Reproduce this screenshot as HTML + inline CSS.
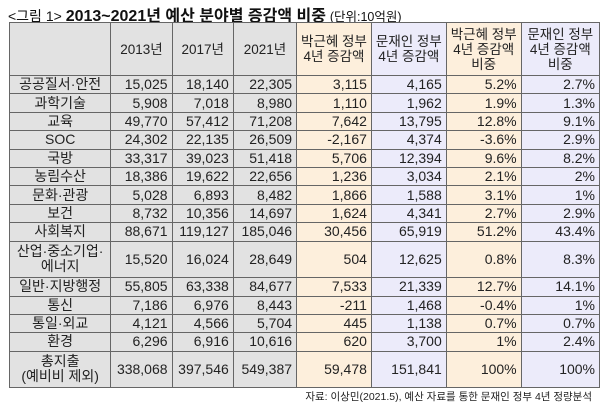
<!DOCTYPE html>
<html><head><meta charset="utf-8"><style>
body{margin:0;width:600px;height:407px;background:#fff;font-family:"Liberation Sans","Noto Sans CJK KR",sans-serif;position:relative;overflow:hidden}
.t{position:absolute;left:8px;top:2px;font-size:14px;color:#111;white-space:nowrap}
.t b{font-size:16px}
.t span{font-size:12.5px}
table{position:absolute;left:9px;top:22px;border-collapse:collapse;table-layout:fixed;font-size:14px;color:#222}
td{border:1px solid #666;padding:0 4px;height:17.4px;line-height:15px;text-align:right;white-space:nowrap;background:#e2e2e2}
td:first-child{text-align:center}
tr.h td{height:52px;text-align:center;line-height:15px;font-size:13.5px}
td.o{background:#fdefdc}
td.p{background:#ecebfa}
tr.d td{height:35.6px}
.s{position:absolute;right:8px;top:389px;font-size:10.5px;color:#222}
</style></head><body>
<div class="t">&lt;그림 1&gt; <b>2013~2021년 예산 분야별 증감액 비중</b> <span>(단위:10억원)</span></div>
<table>
<colgroup><col style="width:104px"><col style="width:62px"><col style="width:62px"><col style="width:65px"><col style="width:68px"><col style="width:74px"><col style="width:69px"><col style="width:80px"></colgroup>
<tr class="h"><td></td><td>2013년</td><td>2017년</td><td>2021년</td><td class="o">박근혜 정부<br>4년 증감액</td><td class="p">문재인 정부<br>4년 증감액</td><td class="o">박근혜 정부<br>4년 증감액<br>비중</td><td class="p">문재인 정부<br>4년 증감액<br>비중</td></tr>
<tr><td>공공질서·안전</td><td>15,025</td><td>18,140</td><td>22,305</td><td class="o">3,115</td><td class="p">4,165</td><td class="o">5.2%</td><td class="p">2.7%</td></tr>
<tr><td>과학기술</td><td>5,908</td><td>7,018</td><td>8,980</td><td class="o">1,110</td><td class="p">1,962</td><td class="o">1.9%</td><td class="p">1.3%</td></tr>
<tr><td>교육</td><td>49,770</td><td>57,412</td><td>71,208</td><td class="o">7,642</td><td class="p">13,795</td><td class="o">12.8%</td><td class="p">9.1%</td></tr>
<tr><td>SOC</td><td>24,302</td><td>22,135</td><td>26,509</td><td class="o">-2,167</td><td class="p">4,374</td><td class="o">-3.6%</td><td class="p">2.9%</td></tr>
<tr><td>국방</td><td>33,317</td><td>39,023</td><td>51,418</td><td class="o">5,706</td><td class="p">12,394</td><td class="o">9.6%</td><td class="p">8.2%</td></tr>
<tr><td>농림수산</td><td>18,386</td><td>19,622</td><td>22,656</td><td class="o">1,236</td><td class="p">3,034</td><td class="o">2.1%</td><td class="p">2%</td></tr>
<tr><td>문화·관광</td><td>5,028</td><td>6,893</td><td>8,482</td><td class="o">1,866</td><td class="p">1,588</td><td class="o">3.1%</td><td class="p">1%</td></tr>
<tr><td>보건</td><td>8,732</td><td>10,356</td><td>14,697</td><td class="o">1,624</td><td class="p">4,341</td><td class="o">2.7%</td><td class="p">2.9%</td></tr>
<tr><td>사회복지</td><td>88,671</td><td>119,127</td><td>185,046</td><td class="o">30,456</td><td class="p">65,919</td><td class="o">51.2%</td><td class="p">43.4%</td></tr>
<tr class="d"><td>산업·중소기업·<br>에너지</td><td>15,520</td><td>16,024</td><td>28,649</td><td class="o">504</td><td class="p">12,625</td><td class="o">0.8%</td><td class="p">8.3%</td></tr>
<tr><td>일반·지방행정</td><td>55,805</td><td>63,338</td><td>84,677</td><td class="o">7,533</td><td class="p">21,339</td><td class="o">12.7%</td><td class="p">14.1%</td></tr>
<tr><td>통신</td><td>7,186</td><td>6,976</td><td>8,443</td><td class="o">-211</td><td class="p">1,468</td><td class="o">-0.4%</td><td class="p">1%</td></tr>
<tr><td>통일·외교</td><td>4,121</td><td>4,566</td><td>5,704</td><td class="o">445</td><td class="p">1,138</td><td class="o">0.7%</td><td class="p">0.7%</td></tr>
<tr><td>환경</td><td>6,296</td><td>6,916</td><td>10,616</td><td class="o">620</td><td class="p">3,700</td><td class="o">1%</td><td class="p">2.4%</td></tr>
<tr class="d"><td>총지출<br>(예비비 제외)</td><td>338,068</td><td>397,546</td><td>549,387</td><td class="o">59,478</td><td class="p">151,841</td><td class="o">100%</td><td class="p">100%</td></tr>
</table>
<div class="s">자료: 이상민(2021.5), 예산 자료를 통한 문재인 정부 4년 정량분석</div>
</body></html>
